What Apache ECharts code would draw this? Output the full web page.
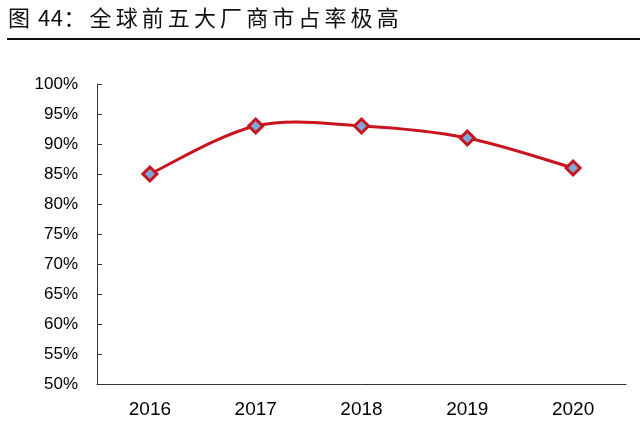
<!DOCTYPE html>
<html>
<head>
<meta charset="utf-8">
<script src="https://cdn.jsdelivr.net/npm/echarts@6/dist/echarts.min.js"></script>
<style>
html,body{margin:0;padding:0;background:#fff;}
#title{position:absolute;left:8px;top:1px;font-family:"Noto Sans CJK SC",sans-serif;font-size:22px;color:#111;line-height:30px;white-space:nowrap;}
#title .fig{margin-right:8px;}
#title .cjk{letter-spacing:4.1px;}
#title .num{letter-spacing:0.5px;}
#rule{position:absolute;left:7px;top:38px;width:633px;height:2px;background:#111;}
#chart{width:640px;height:448px;}
</style>
</head>
<body>
<div id="chart"></div>
<div id="title"><span class="fig">图</span><span class="num">44</span><span class="cjk">：全球前五大厂商市占率极高</span></div>
<div id="rule"></div>
<script>
var categories = ['2016', '2017', '2018', '2019', '2020'];
var shareValues = [85, 93, 93, 91, 86];
var yTicks = {min: 50, max: 100, interval: 5};

var LINE_COLOR = '#c8141e';

// Smoothed line (Catmull-Rom style, as in the source spreadsheet chart),
// each segment positioned through the chart's own coordinate system.
function renderSegment(params, api) {
  var i = params.dataIndex;
  var n = shareValues.length;
  if (i >= n - 1) return null;
  function pt(j) {
    j = Math.max(0, Math.min(n - 1, j));
    return api.coord([j, shareValues[j]]);
  }
  var p0 = pt(i - 1), p1 = pt(i), p2 = pt(i + 1), p3 = pt(i + 2);
  var k = 1 / 6;
  return {
    type: 'bezierCurve',
    shape: {
      x1: p1[0], y1: p1[1],
      cpx1: p1[0] + (p2[0] - p0[0]) * k, cpy1: p1[1] + (p2[1] - p0[1]) * k,
      cpx2: p2[0] - (p3[0] - p1[0]) * k, cpy2: p2[1] - (p3[1] - p1[1]) * k,
      x2: p2[0], y2: p2[1]
    },
    style: {stroke: LINE_COLOR, lineWidth: 3, fill: null}
  };
}

var chart = echarts.init(document.getElementById('chart'));
chart.setOption({
  animation: false,
  grid: {left: 97, right: 14, top: 84, bottom: 64},
  xAxis: {
    type: 'category',
    data: categories,
    boundaryGap: true,
    axisLine: {lineStyle: {color: '#333', width: 1}},
    axisTick: {inside: true, length: 5, lineStyle: {color: '#333'}},
    axisLabel: {color: '#000', fontSize: 19, fontFamily: 'Liberation Sans, Arial', margin: 16}
  },
  yAxis: {
    type: 'value',
    min: yTicks.min,
    max: yTicks.max,
    interval: yTicks.interval,
    splitLine: {show: false},
    axisLine: {show: true, lineStyle: {color: '#333', width: 1}},
    axisTick: {show: true, inside: true, length: 5, lineStyle: {color: '#333'}},
    axisLabel: {color: '#000', fontSize: 17, fontFamily: 'Liberation Sans, Arial', margin: 19, formatter: '{value}%'}
  },
  series: [{
    type: 'custom',
    renderItem: renderSegment,
    data: shareValues.map(function (v, i) { return [i, v]; }),
    encode: {x: 0, y: 1},
    z: 2
  }, {
    type: 'line',
    data: shareValues,
    symbol: 'diamond',
    symbolSize: 14,
    lineStyle: {width: 0, opacity: 0},
    itemStyle: {color: '#7fa8d8', borderColor: LINE_COLOR, borderWidth: 3},
    z: 3
  }]
});
</script>
</body>
</html>
